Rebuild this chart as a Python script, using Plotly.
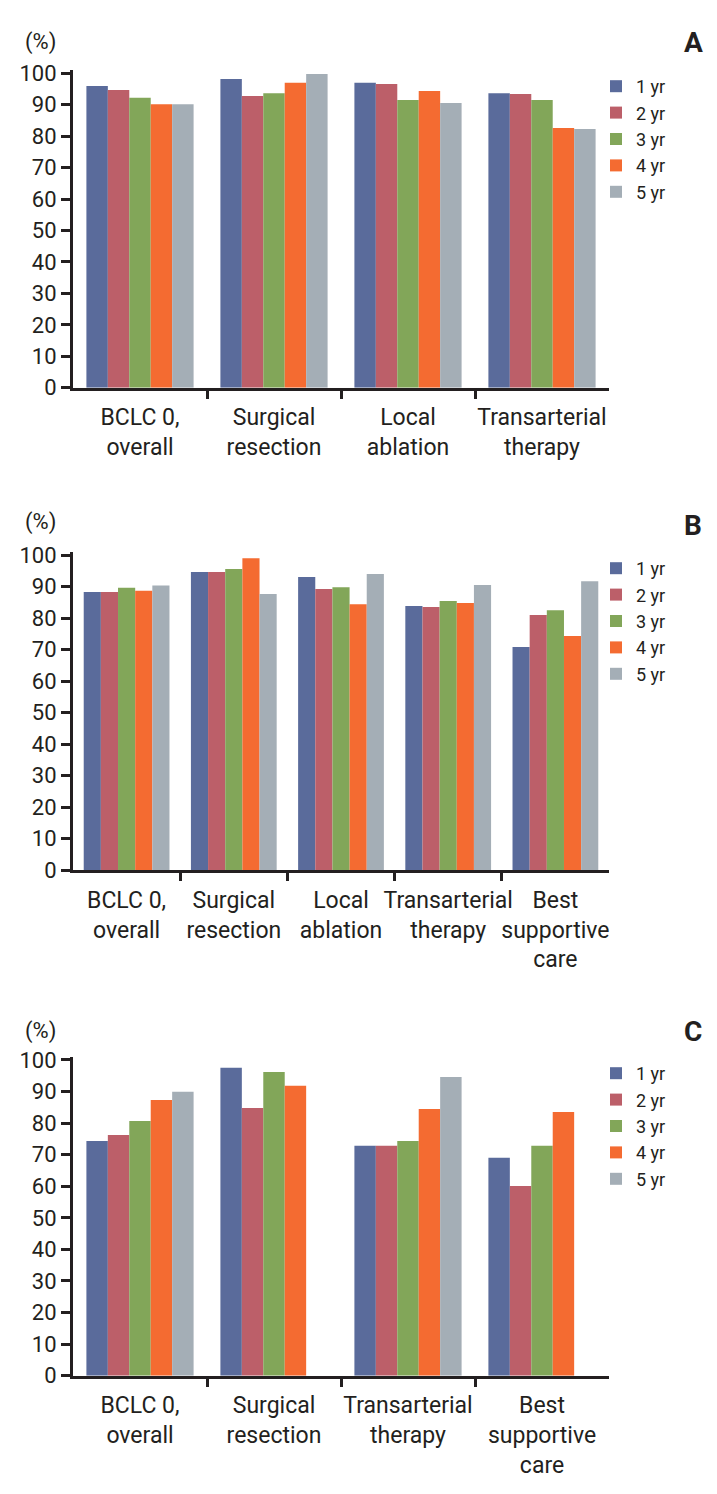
import plotly.graph_objects as go

# ---------------- data ----------------
series_names = ["1 yr", "2 yr", "3 yr", "4 yr", "5 yr"]
series_colors = ["#5a6b9b", "#bc5f69", "#82a659", "#f46b31", "#a4aeb6"]

categories_A = ["BCLC 0,<br>overall", "Surgical<br>resection", "Local<br>ablation", "Transarterial<br>therapy"]
values_A_1yr = [96.0, 98.2, 97.0, 93.7]
values_A_2yr = [94.7, 92.8, 96.6, 93.4]
values_A_3yr = [92.2, 93.7, 91.5, 91.5]
values_A_4yr = [90.2, 97.0, 94.4, 82.6]
values_A_5yr = [90.2, 99.8, 90.6, 82.3]

categories_B = ["BCLC 0,<br>overall", "Surgical<br>resection", "Local<br>ablation", "Transarterial<br>therapy", "Best<br>supportive<br>care"]
values_B_1yr = [88.3, 94.6, 93.0, 83.8, 70.8]
values_B_2yr = [88.3, 94.6, 89.2, 83.5, 81.0]
values_B_3yr = [89.6, 95.6, 89.8, 85.4, 82.5]
values_B_4yr = [88.7, 99.0, 84.4, 84.8, 74.3]
values_B_5yr = [90.3, 87.6, 94.0, 90.5, 91.7]

categories_C = ["BCLC 0,<br>overall", "Surgical<br>resection", "Transarterial<br>therapy", "Best<br>supportive<br>care"]
values_C_1yr = [74.3, 97.5, 72.8, 69.0]
values_C_2yr = [76.2, 84.8, 72.8, 60.1]
values_C_3yr = [80.7, 96.2, 74.3, 72.8]
values_C_4yr = [87.3, 91.8, 84.5, 83.5]
values_C_5yr = [89.9, None, 94.6, None]

y_tick_values = [0, 10, 20, 30, 40, 50, 60, 70, 80, 90, 100]
panel_letters = ["A", "B", "C"]

# ---------------- layout helpers ----------------
W, H = 717, 1494
OFF = 8  # page body margin offset
DARK = "#231f20"
FONT = "Roboto, Liberation Sans, sans-serif"


def px_x(p):
    return (p - OFF) / W


def px_y(p):
    return (H - (p - OFF)) / H


x_left, x_right = 73, 609
# (pixel y of value 0, pixel y of value 101) for each panel
panel_pix = [(387.7, 70.2), (870.0, 551.9), (1375.7, 1056.8)]
legend_top_pix = [68, 550, 1055]
letter_pix = [43, 525, 1031]
pct_pix = [42, 522, 1031]

panels = [
    (categories_A, [values_A_1yr, values_A_2yr, values_A_3yr, values_A_4yr, values_A_5yr]),
    (categories_B, [values_B_1yr, values_B_2yr, values_B_3yr, values_B_4yr, values_B_5yr]),
    (categories_C, [values_C_1yr, values_C_2yr, values_C_3yr, values_C_4yr, values_C_5yr]),
]

fig = go.Figure()
layout = dict(
    width=W, height=H,
    margin=dict(l=0, r=0, t=0, b=0, autoexpand=False),
    paper_bgcolor="white", plot_bgcolor="white",
    font=dict(family=FONT, color=DARK, size=23),
    barmode="group", bargap=0.2, bargroupgap=0.0,
    showlegend=True,
    annotations=[],
)

for p, (cats, vals) in enumerate(panels):
    idx = "" if p == 0 else str(p + 1)
    xa, ya = "x" + idx, "y" + idx
    legname = "legend" + idx
    xpos = list(range(len(cats)))
    for s, name in enumerate(series_names):
        fig.add_trace(go.Bar(
            x=xpos, y=vals[s], name=name,
            marker=dict(color=series_colors[s], line=dict(width=0)),
            xaxis=xa, yaxis=ya, legend=legname,
            offsetgroup=str(s),
        ))
    y0pix, y1pix = panel_pix[p]
    layout["xaxis" + idx] = dict(
        domain=[px_x(x_left), px_x(x_right)],
        anchor=ya,
        range=[-0.5, len(cats) - 0.5],
        tickmode="array", tickvals=xpos, ticktext=cats, tickangle=0,
        ticks="outside", ticklen=7, tickcolor="rgba(0,0,0,0)",
        showline=True, linecolor=DARK, linewidth=3,
        showgrid=False, zeroline=False, automargin=False,
        tickfont=dict(size=23, color=DARK, family=FONT),
        minor=dict(tickmode="array", tickvals=[i + 0.5 for i in range(len(cats) - 1)],
                   ticks="outside", ticklen=8, tickwidth=3, tickcolor=DARK, showgrid=False),
    )
    layout["yaxis" + idx] = dict(
        domain=[px_y(y0pix), px_y(y1pix)],
        anchor=xa,
        range=[0, 101],
        tickmode="array", tickvals=y_tick_values,
        ticks="outside", ticklen=9, tickwidth=3, tickcolor=DARK,
        showline=True, linecolor=DARK, linewidth=3,
        showgrid=False, zeroline=False, automargin=False,
        tickfont=dict(size=22, color=DARK, family=FONT),
    )
    layout[legname] = dict(
        x=px_x(596), xanchor="left",
        y=px_y(legend_top_pix[p]), yanchor="top",
        font=dict(size=18, color=DARK, family=FONT),
        bgcolor="rgba(0,0,0,0)", borderwidth=0,
        itemclick=False, itemdoubleclick=False,
        tracegroupgap=0, traceorder="normal",
    )
    layout["annotations"].append(dict(
        text="<b>" + panel_letters[p] + "</b>", x=px_x(693), y=px_y(letter_pix[p]),
        xref="paper", yref="paper", showarrow=False, xanchor="center", yanchor="middle",
        font=dict(size=28, color=DARK, family=FONT),
    ))
    layout["annotations"].append(dict(
        text="(%)", x=px_x(40), y=px_y(pct_pix[p]),
        xref="paper", yref="paper", showarrow=False, xanchor="center", yanchor="middle",
        font=dict(size=22, color=DARK, family=FONT),
    ))

fig.update_layout(**layout)
fig.write_html("out.html")
